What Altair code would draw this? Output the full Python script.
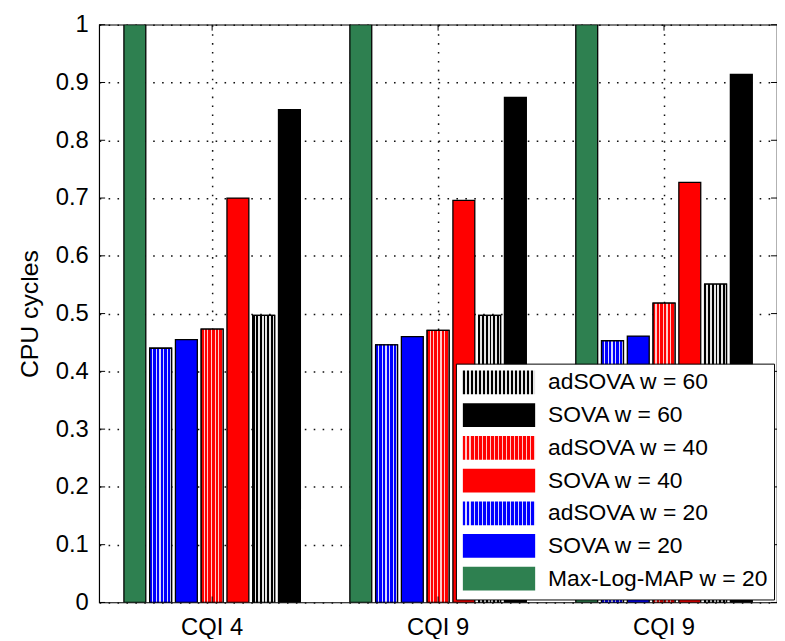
import json
import altair as alt
import pandas as pd

# ---------------- data ----------------
groups = ["CQI 4", "CQI 9", "CQI 9"]
bar_order = ["Max-Log-MAP w = 20", "adSOVA w = 20", "SOVA w = 20",
             "adSOVA w = 40", "SOVA w = 40", "adSOVA w = 60", "SOVA w = 60"]
legend_order = ["adSOVA w = 60", "SOVA w = 60", "adSOVA w = 40", "SOVA w = 40",
                "adSOVA w = 20", "SOVA w = 20", "Max-Log-MAP w = 20"]

maxlog_20 = [1.0, 1.0, 1.0]
adsova_20 = [0.440, 0.446, 0.453]
sova_20 = [0.455, 0.460, 0.461]
adsova_40 = [0.473, 0.471, 0.518]
sova_40 = [0.700, 0.696, 0.727]
adsova_60 = [0.497, 0.497, 0.551]
sova_60 = [0.853, 0.874, 0.914]

y_ticks = [0, 0.1, 0.2, 0.3, 0.4, 0.5, 0.6, 0.7, 0.8, 0.9, 1]

series_values = {
    "Max-Log-MAP w = 20": maxlog_20,
    "adSOVA w = 20": adsova_20,
    "SOVA w = 20": sova_20,
    "adSOVA w = 40": adsova_40,
    "SOVA w = 40": sova_40,
    "adSOVA w = 60": adsova_60,
    "SOVA w = 60": sova_60,
}

colors = {
    "Max-Log-MAP w = 20": "#2E8050",
    "adSOVA w = 20": "#0000FF",
    "SOVA w = 20": "#0000FF",
    "adSOVA w = 40": "#FF0000",
    "SOVA w = 40": "#FF0000",
    "adSOVA w = 60": "#000000",
    "SOVA w = 60": "#000000",
}
stripe_colors = {
    "adSOVA w = 20": ("#0000FF", "#D8D8FF", 0.35),
    "adSOVA w = 40": ("#FF0000", "#FFC8C8", 0.35),
    "adSOVA w = 60": ("#000000", "#E6E6E6", 0.5),
}

rows = []
for i, g in enumerate(groups):
    for s in bar_order:
        rows.append({"gi": i, "series": s, "value": series_values[s][i]})
df = pd.DataFrame(rows)

W, H = 684, 583
FONT = "Liberation Sans"
SYMBOL = "M-1,-1H5.08V1H-1Z"


def stripes(base, light, frac, n):
    stops = []
    for k in range(n):
        a = k / n
        b = (k + 1 - frac) / n
        c = (k + 1) / n
        stops += [{"offset": a, "color": base}, {"offset": b, "color": base},
                  {"offset": b, "color": light}, {"offset": c, "color": light}]
    return {"gradient": "linear", "x1": 0, "y1": 0, "x2": 1, "y2": 0, "stops": stops}


def grad_literal(g):
    st = ",".join("{offset:%.4f,color:'%s'}" % (s["offset"], s["color"]) for s in g["stops"])
    return "{gradient:'linear',x1:0,y1:0,x2:1,y2:0,stops:[%s]}" % st


# legend symbol fill expression (striped entries use gradients)
solid_lookup = "{" + ",".join("'%s':'%s'" % (s, colors[s]) for s in legend_order) + "}"
expr = solid_lookup + "[datum.value]"
for s, (b, l, f) in stripe_colors.items():
    expr = "datum.value === '%s' ? %s : (%s)" % (s, grad_literal(stripes(b, l, f, 18)), expr)

label_expr = json.dumps(groups) + "[datum.value]"

x_enc = alt.X(
    "gi:O",
    scale=alt.Scale(paddingInner=0, paddingOuter=0),
    axis=alt.Axis(labelExpr=label_expr, title=None, labelAngle=0, grid=True,
                  gridDash=[1.6, 7.4], gridColor="#111111", gridWidth=1.5,
                  ticks=False, domain=False, bandPosition=0.5,
                  labelFontSize=24, labelFont=FONT, labelColor="black",
                  labelPadding=13),
)
xoff = alt.XOffset("series:N",
                   scale=alt.Scale(domain=bar_order, paddingInner=0.15, paddingOuter=0.96))
y_enc = alt.Y(
    "value:Q",
    scale=alt.Scale(domain=[0, 1], nice=False),
    axis=alt.Axis(values=y_ticks, format="~g", grid=True, gridDash=[1.6, 7.4],
                  gridColor="#111111", gridWidth=1.5, ticks=False, domain=False,
                  labelFontSize=24, labelFont=FONT, labelColor="black",
                  labelPadding=11, title="CPU cycles", titleFont=FONT,
                  titleFontSize=25, titleFontWeight="normal", titleColor="black",
                  titlePadding=13),
)

legend = alt.Legend(
    title=None, orient="bottom-right", offset=3, fillColor="white",
    strokeColor="black", padding=6, cornerRadius=0,
    symbolSize=576,
    symbolStrokeColor="black", symbolStrokeWidth=1.2, symbolOpacity=1,
    labelFontSize=23, labelFont=FONT, labelColor="black", labelOffset=61,
    labelLimit=400, rowPadding=3,
)

bars = alt.Chart(df).mark_bar(stroke="black", strokeWidth=1.3, clip=True).encode(
    x=x_enc,
    xOffset=xoff,
    y=y_enc,
    fill=alt.Fill("series:N",
                  scale=alt.Scale(domain=bar_order,
                                  range=[colors[s] for s in bar_order]),
                  legend=None),
)

layers = [bars]
for s, (b, l, f) in stripe_colors.items():
    layers.append(
        alt.Chart(df[df["series"] == s]).mark_bar(
            stroke="black", strokeWidth=1.3, clip=True, fill=stripes(b, l, f, 6)
        ).encode(x=alt.X("gi:O"), xOffset=alt.XOffset("series:N"), y=alt.Y("value:Q"))
    )

# invisible layer that only carries the legend
legend_df = pd.DataFrame({"series": legend_order})
layers.append(
    alt.Chart(legend_df).mark_point(filled=True, opacity=0, size=1,
                                    stroke="black", strokeWidth=1.2,
                                    fill=alt.ExprRef(expr=expr)).encode(
        shape=alt.Shape("series:N",
                        scale=alt.Scale(domain=legend_order,
                                        range=[SYMBOL] * len(legend_order)),
                        legend=legend),
        stroke=alt.value("black"),
    )
)

ydf = pd.DataFrame({"value": y_ticks})
xdf = pd.DataFrame({"gi": list(range(len(groups)))})
layers.append(alt.Chart(ydf).mark_rule(color="black", strokeWidth=1).encode(
    y=alt.Y("value:Q"), x=alt.value(0), x2=alt.value(6)))
layers.append(alt.Chart(ydf).mark_rule(color="black", strokeWidth=1).encode(
    y=alt.Y("value:Q"), x=alt.value(W - 6), x2=alt.value(W)))
layers.append(alt.Chart(xdf).mark_rule(color="black", strokeWidth=1).encode(
    x=alt.X("gi:O", bandPosition=0.5), y=alt.value(0), y2=alt.value(6)))
layers.append(alt.Chart(xdf).mark_rule(color="black", strokeWidth=1).encode(
    x=alt.X("gi:O", bandPosition=0.5), y=alt.value(H - 6), y2=alt.value(H)))

chart = alt.layer(*layers).properties(
    width=W, height=H,
    autosize=alt.AutoSizeParams(type="none"),
    padding={"left": 92, "top": 14, "right": 0, "bottom": 34},
    background="white",
).configure_view(stroke="black", strokeWidth=1.2)

chart.save("out.html", embed_options={"renderer": "svg", "actions": False})
